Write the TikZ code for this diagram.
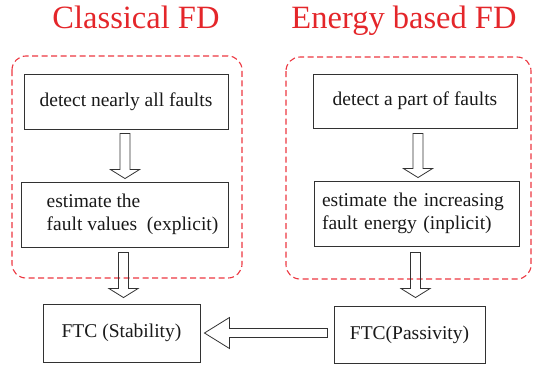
\documentclass[tikz,border=0pt]{standalone}
\usepackage{fontspec}
\setmainfont{Liberation Serif}
\usetikzlibrary{calc}
\definecolor{titlered}{RGB}{228,38,42}
\definecolor{dashred}{RGB}{236,55,65}
\definecolor{boxline}{RGB}{50,50,50}
\definecolor{txt}{RGB}{25,25,25}
\tikzset{
  box/.style={draw=boxline, line width=0.9pt, text=txt, font=\fontsize{19.5}{23}\selectfont, inner sep=0pt},
  title/.style={text=titlered, font=\fontsize{32.5}{36}\selectfont, anchor=base, inner sep=0pt},
  group/.style={draw=dashred, line width=1.1pt, dash pattern=on 6pt off 3.5pt, rounded corners=14pt},
  fatarrow/.style={draw=boxline, line width=0.8pt, line join=miter}
}
\newcommand\fatdown[2]{\draw[fatarrow] let \p1=#1, \p2=#2 in
  (\x1-5pt,\y1) -- (\x1+5pt,\y1) -- (\x1+5pt,\y2+9pt) -- (\x1+14.5pt,\y2+9pt)
  -- (\x1,\y2) -- (\x1-14.5pt,\y2+9pt) -- (\x1-5pt,\y2+9pt) -- cycle;}
\begin{document}
\begin{tikzpicture}[x=1pt,y=-1pt]
\useasboundingbox (0,0) rectangle (534,367);
% titles
\node[title] (t1) at (136,28) {Classical FD};
\node[title] (t2) at (404,28) {Energy based FD};
% dashed groups
\draw[group] (12,56) rectangle (242,278);
\draw[group] (286,57) rectangle (531,279);
% boxes
\node[box, minimum width=204pt, minimum height=55pt] (L1) at (126,101.5) {detect nearly all faults};
\node[box, minimum width=206pt, minimum height=65pt, align=left, inner xsep=10pt] (L2) at (125,214.5)
  {\hspace*{15pt}estimate the\\\hspace*{15pt}fault values\ \ (explicit)};
\node[box, minimum width=204pt, minimum height=54pt] (R1) at (415,101) {detect a part of faults};
\node[box, minimum height=65pt, text width=189pt, align=left, inner xsep=8pt] (R2) at (416.5,213.5)
  {estimate the increasing\\fault energy (inplicit)};
\node[box, minimum width=157pt, minimum height=58pt] (S) at (121.5,333) {FTC (Stability)};
\node[box, minimum width=151pt, minimum height=57pt] (P) at (409.5,334.5) {FTC(Passivity)};
% arrows
\fatdown{($(L1.south)+(-1,4)$)}{($(L2.north)+(0,-3)$)}
\fatdown{($(L2.south)+(-1.5,5)$)}{($(S.north)+(0,-6)$)}
\fatdown{($(R1.south)+(3,5)$)}{($(R2.north)+(0,-3)$)}
\fatdown{($(R2.south)+(-1,6)$)}{($(P.north)+(0,-8)$)}
\draw[fatarrow] let \p1=($(P.west)+(-6,0)$), \p2=($(S.east)+(4,0)$) in
  (\x1,\y2+4.5pt) -- (\x2+25pt,\y2+4.5pt) -- (\x2+25pt,\y2+15.5pt) -- (\x2,\y2)
  -- (\x2+25pt,\y2-15.5pt) -- (\x2+25pt,\y2-4.5pt) -- (\x1,\y2-4.5pt) -- cycle;
\end{tikzpicture}
\end{document}
